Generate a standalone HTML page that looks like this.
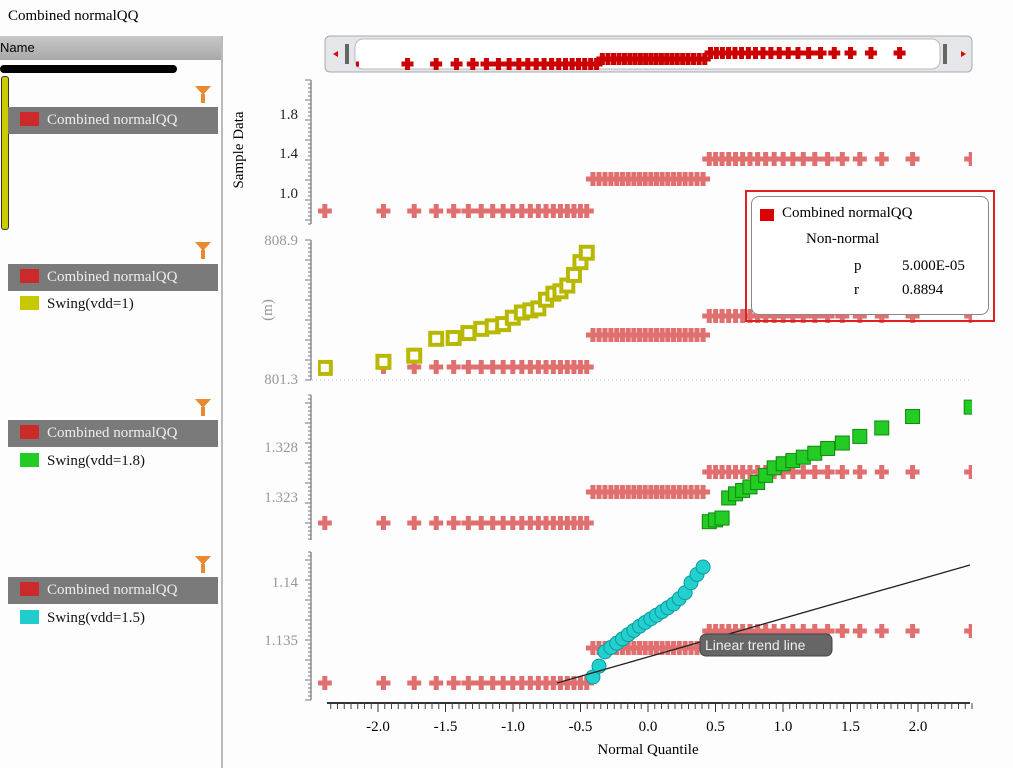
<!DOCTYPE html>
<html><head><meta charset="utf-8"><style>
body{margin:0;width:1013px;height:768px;background:#fdfdfd;overflow:hidden;font-family:"Liberation Serif",serif;position:relative}
.a{position:absolute}
.row{position:absolute;left:8px;width:210px;height:27px;background:#7a7a7a;color:#eee;font-size:15px;line-height:27px}
.row i{display:inline-block;width:19px;height:14px;background:#cc2a2a;margin:0 8px 0 12px;vertical-align:-2px}
.it{position:absolute;left:20px;font-size:15px;color:#111}
.it i{display:inline-block;width:19px;height:14px;margin:0 8px 0 0;vertical-align:-2px}
.fl{position:absolute;left:195px;width:0;height:0;border-left:8px solid transparent;border-right:8px solid transparent;border-top:9px solid #e88a30}
.fl:after{content:"";position:absolute;left:-2px;top:-1px;width:4px;height:9px;background:#e88a30}
</style></head><body>
<div class="a" style="left:8px;top:8px;font-size:15px">Combined normalQQ</div>
<div class="a" style="left:0;top:36px;width:222px;height:24px;background:linear-gradient(#c8c8c8,#a8a8a8);font-family:'Liberation Sans',sans-serif;font-size:13px;line-height:24px">Name</div>
<div class="a" style="left:221px;top:36px;width:2px;height:732px;background:#bbb"></div>
<div class="a" style="left:0;top:65px;width:177px;height:8px;border-radius:4px;background:#000"></div>
<div class="a" style="left:1px;top:76px;width:6px;height:152px;border-radius:3px;background:#cccc00;border:1px solid #333"></div>
<div class="fl" style="top:86px"></div><div class="row" style="top:107px"><i></i>Combined normalQQ</div>
<div class="fl" style="top:242px"></div><div class="row" style="top:264px"><i></i>Combined normalQQ</div>
<div class="it" style="top:296px"><i style="background:#c8c800"></i>Swing(vdd=1)</div>
<div class="fl" style="top:399px"></div><div class="row" style="top:420px"><i></i>Combined normalQQ</div>
<div class="it" style="top:453px"><i style="background:#22cc22"></i>Swing(vdd=1.8)</div>
<div class="fl" style="top:556px"></div><div class="row" style="top:577px"><i></i>Combined normalQQ</div>
<div class="it" style="top:610px"><i style="background:#22cccc"></i>Swing(vdd=1.5)</div>
<svg class="a" style="left:0;top:0" width="1013" height="768" id="s"></svg>
<div class="a" style="left:745px;top:190px;width:246px;height:128px;border:2px solid #d22"></div>
<div class="a" style="left:751px;top:196px;width:236px;height:117px;border:1px solid #888;border-radius:8px;background:#fff;font-size:15px">
<div class="a" style="left:8px;top:12px;width:14px;height:12px;background:#d00"></div>
<div class="a" style="left:30px;top:8px">Combined normalQQ</div>
<div class="a" style="left:54px;top:34px">Non-normal</div>
<div class="a" style="left:102px;top:61px">p</div><div class="a" style="left:150px;top:61px">5.000E-05</div>
<div class="a" style="left:102px;top:85px">r</div><div class="a" style="left:150px;top:85px">0.8894</div>
</div>
<script>
const s=document.getElementById('s');let h='';
function qn(p){
const a=[-39.6968302866538,220.946098424521,-275.928510446969,138.357751867269,-30.6647980661472,2.50662827745924],b=[-54.4760987982241,161.585836858041,-155.698979859887,66.8013186538384,-13.2806815528857],c=[-0.00778489400243029,-0.322396458041136,-2.40075827716184,-2.54973253934373,4.37466414146497,2.93816398269878],d=[0.00778469570904146,0.32246712907004,2.445134137143,3.75440866190742];
let q,r;if(p<0.02425){q=Math.sqrt(-2*Math.log(p));return(((((c[0]*q+c[1])*q+c[2])*q+c[3])*q+c[4])*q+c[5])/((((d[0]*q+d[1])*q+d[2])*q+d[3])*q+1);}
if(p>1-0.02425)return -qn(1-p);q=p-0.5;r=q*q;return(((((a[0]*r+a[1])*r+a[2])*r+a[3])*r+a[4])*r+a[5])*q/(((((b[0]*r+b[1])*r+b[2])*r+b[3])*r+b[4])*r+1);}
const N=60,Q=[];for(let i=0;i<N;i++)Q.push(qn((i+0.5)/N));
const X=q=>648+q*135;
function interp(P,x){for(let i=0;i<P.length-1;i++){if(x<=P[i+1][0]){let t=(x-P[i][0])/(P[i+1][0]-P[i][0]);return P[i][1]+t*(P[i+1][1]-P[i][1]);}}return P[P.length-1][1];}
function plus(x,y,c,sz){sz=sz||7;h+=`<path d="M${x-sz} ${y}H${x+sz}M${x} ${y-sz}V${y+sz}" stroke="${c}" stroke-width="5"/>`;}
h+=`<rect x="325" y="36" width="647" height="36" rx="5" fill="#e4e6ea" stroke="#aaa"/><rect x="355" y="39" width="585" height="30" rx="8" fill="#fff" stroke="#bbb"/>`;
h+=`<rect x="345" y="44" width="4" height="20" fill="#666"/><rect x="943" y="44" width="4" height="20" fill="#666"/>`;
h+=`<path d="M333 54l5-3v6z M966 54l-5-3v6z" fill="#d00"/>`;
h+=`<clipPath id="cp"><rect x="356" y="40" width="584" height="30"/></clipPath><g clip-path="url(#cp)">`;
Q.forEach(q=>{let y=q<-0.45?64:(q<0.42?59:53);plus(355+(X(q)-327)*0.93,y,'#cc0000',6);});
h+=`</g>`;
const P=[{l:211,m:179,hi:159},{l:367,m:335,hi:316},{l:523,m:492,hi:472},{l:683,m:648,hi:631}];
h+=`<clipPath id="pc"><rect x="318" y="70" width="654" height="640"/></clipPath><g clip-path="url(#pc)">`;
P.forEach(p=>{Q.forEach(q=>{let y=q<-0.45?p.l:(q<0.42?p.m:p.hi);plus(X(q),y,'#e07070');});});
const YP=[[-2.4,368],[-1.97,362],[-1.75,358],[-1.6,339],[-1.44,338],[-1.24,329],[-1.07,324],[-0.95,313],[-0.8,308],[-0.73,295],[-0.62,290],[-0.56,278],[-0.5,262],[-0.45,252]];
Q.filter(q=>q<-0.45).forEach(q=>{let y=interp(YP,q);h+=`<rect x="${X(q)-6}" y="${y-6}" width="12" height="12" fill="#fff" stroke="#b8b800" stroke-width="4"/>`;});
const GP=[[0.42,523],[0.55,518],[0.6,497],[0.8,484],[0.95,466],[1.2,455],[1.5,440],[1.75,427],[1.97,416],[2.4,407]];
Q.filter(q=>q>0.42).forEach(q=>{let y=interp(GP,q);h+=`<rect x="${X(q)-7}" y="${y-7}" width="14" height="14" fill="#22cc22" stroke="#118811"/>`;});
const CP=[[-0.45,683],[-0.38,673],[-0.33,653],[-0.2,640],[-0.05,625],[0.1,612],[0.2,603],[0.28,592],[0.33,580],[0.42,565]];
Q.filter(q=>q>=-0.45&&q<=0.42).forEach(q=>{let y=interp(CP,q);h+=`<circle cx="${X(q)}" cy="${y}" r="7" fill="#22d0d0" stroke="#119999"/>`;});
h+=`</g><line x1="557" y1="683" x2="970" y2="565" stroke="#222" stroke-width="1.3"/>`;
h+=`<rect x="700" y="634" width="132" height="22" rx="6" fill="#666" stroke="#444"/><text x="705" y="650" fill="#eee" font-size="14" font-family="Liberation Sans">Linear trend line</text>`;
function yax(top,bot,labels,col){h+=`<line x1="311" y1="${top}" x2="311" y2="${bot}" stroke="#555"/>`;for(let y=top;y<=bot;y+=4)h+=`<line x1="${y%20<4?305:308}" y1="${y}" x2="311" y2="${y}" stroke="#777"/>`;labels.forEach(([t,y])=>h+=`<text x="298" y="${y+5}" text-anchor="end" font-size="15" fill="${col}">${t}</text>`);}
yax(80,224,[['1.8',114],['1.4',153],['1.0',193]],'#222');
yax(240,380,[['808.9',240],['801.3',379]],'#999');
yax(395,540,[['1.328',447],['1.323',497]],'#999');
yax(552,700,[['1.14',582],['1.135',640]],'#999');
h+=`<line x1="312" y1="380" x2="970" y2="380" stroke="#bbb" stroke-dasharray="1 3"/>`;
h+=`<text transform="translate(243,150) rotate(-90)" text-anchor="middle" font-size="15">Sample Data</text>`;
h+=`<text transform="translate(272,310) rotate(-90)" text-anchor="middle" font-size="15" fill="#999">(m)</text>`;
h+=`<line x1="327" y1="703" x2="970" y2="703" stroke="#333" stroke-width="2"/>`;
for(let v=-2.35;v<=2.4;v+=0.05){let x=X(v);h+=`<line x1="${x}" y1="703" x2="${x}" y2="709" stroke="#444"/>`;}
[-2,-1.5,-1,-0.5,0,0.5,1,1.5,2].forEach(v=>{h+=`<line x1="${X(v)}" y1="703" x2="${X(v)}" y2="712" stroke="#333"/><text x="${X(v)}" y="731" text-anchor="middle" font-size="15">${v.toFixed(1)}</text>`;});
h+=`<text x="648" y="754" text-anchor="middle" font-size="15">Normal Quantile</text>`;
s.innerHTML=h;
</script>
</body></html>
